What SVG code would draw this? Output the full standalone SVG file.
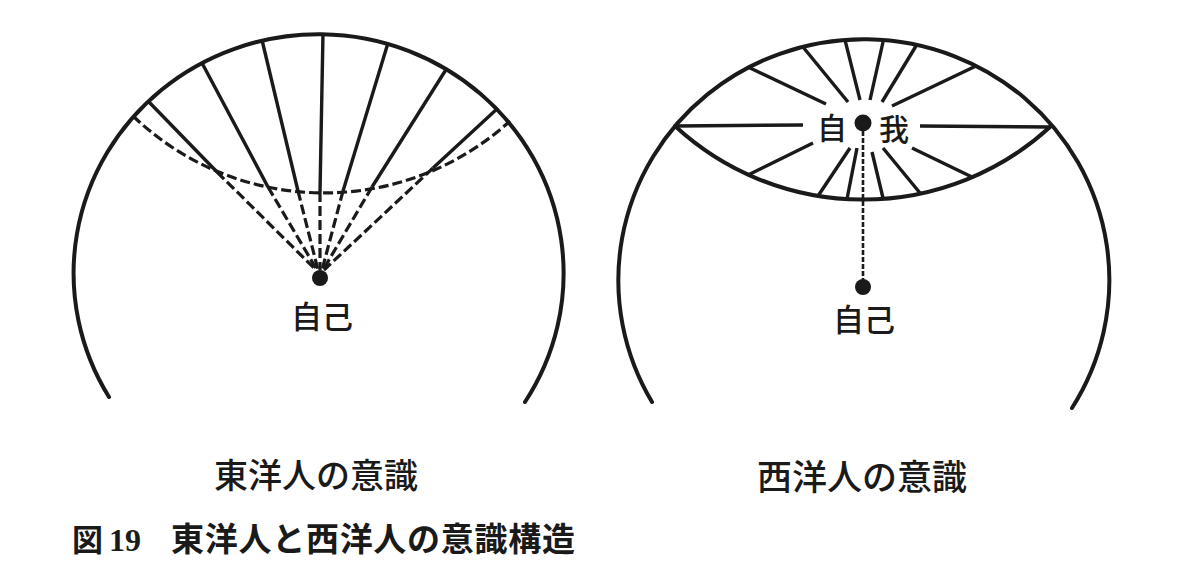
<svg xmlns="http://www.w3.org/2000/svg" width="1193" height="580" viewBox="0 0 1193 580">
<style>
.rim{fill:none;stroke:#1a1a1a;stroke-width:4;stroke-linecap:round}
.solid{fill:none;stroke:#1a1a1a;stroke-width:3.4;stroke-linecap:butt}
.dash{fill:none;stroke:#1a1a1a;stroke-width:3.2;stroke-dasharray:10 4}
.fine{fill:none;stroke:#1a1a1a;stroke-width:2.6;stroke-dasharray:5 2}
.dot{fill:#1a1a1a}
.lbl{font-family:"Noto Sans CJK JP","Noto Sans CJK SC",sans-serif;fill:#1a1a1a;font-weight:500}
.cap{font-family:"Noto Sans CJK JP","Noto Sans CJK SC",sans-serif;font-weight:700;fill:#1a1a1a}
.num{font-family:"Liberation Serif",serif;font-weight:700;fill:#1a1a1a}
</style>
<rect width="1193" height="580" fill="#ffffff"/>

<!-- East diagram -->
<g id="east-sphere">
<path class="rim" d="M109,397 A245,239 0 1 1 525,402"/>
</g>
<g id="east-self">
<circle class="dot" cx="320" cy="278" r="8"/>
<text class="lbl" x="322" y="328" font-size="31" text-anchor="middle">自己</text>
</g>
<g id="east-connectors">
<path class="dash" d="M133,116 A276,276 0 0 0 510,121"/>
<line class="solid" x1="148" y1="101" x2="217" y2="172"/>
<line class="solid" x1="202" y1="63" x2="268" y2="187"/>
<line class="solid" x1="262" y1="40" x2="298" y2="191"/>
<line class="solid" x1="323" y1="33" x2="320" y2="192"/>
<line class="solid" x1="388" y1="43" x2="343" y2="191"/>
<line class="solid" x1="447" y1="68" x2="372" y2="187"/>
<line class="solid" x1="498" y1="108" x2="433" y2="168"/>
<line class="dash" x1="217" y1="172" x2="316" y2="270"/>
<line class="dash" x1="268" y1="187" x2="317" y2="270"/>
<line class="dash" x1="298" y1="191" x2="318" y2="270"/>
<line class="dash" x1="320" y1="192" x2="320" y2="270"/>
<line class="dash" x1="343" y1="191" x2="322" y2="270"/>
<line class="dash" x1="372" y1="187" x2="323" y2="270"/>
<line class="dash" x1="433" y1="168" x2="324" y2="270"/>
</g>
<g id="east-title">
<text class="lbl" x="316" y="488" font-size="34" text-anchor="middle">東洋人の意識</text>
</g>

<!-- West diagram -->
<g id="west-sphere">
<path class="rim" d="M652,402 A245.5,241 0 1 1 1072,408"/>
</g>
<g id="west-ego">
<path class="rim" d="M675,126 A277,277 0 0 0 1050,127"/>
<circle class="dot" cx="863" cy="123" r="8.5"/>
<text class="lbl" x="832" y="139" font-size="30" text-anchor="middle">自</text>
<text class="lbl" x="894" y="140" font-size="30" text-anchor="middle">我</text>
</g>
<g id="west-self">
<circle class="dot" cx="863" cy="287" r="8"/>
<text class="lbl" x="864" y="331" font-size="31" text-anchor="middle">自己</text>
</g>
<g id="west-connectors">
<line class="solid" x1="675" y1="126" x2="803" y2="125"/>
<line class="solid" x1="920" y1="126" x2="1050" y2="127"/>
<line class="solid" x1="748" y1="67" x2="826" y2="104"/>
<line class="solid" x1="803" y1="47" x2="848" y2="102"/>
<line class="solid" x1="845" y1="40" x2="860" y2="100"/>
<line class="solid" x1="883" y1="42" x2="870" y2="100"/>
<line class="solid" x1="916" y1="46" x2="882" y2="102"/>
<line class="solid" x1="976" y1="66" x2="892" y2="106"/>
<line class="solid" x1="748" y1="175" x2="813" y2="143"/>
<line class="solid" x1="818" y1="196" x2="850" y2="148"/>
<line class="solid" x1="847" y1="199" x2="857" y2="148"/>
<line class="solid" x1="883" y1="198" x2="872" y2="152"/>
<line class="solid" x1="920" y1="193" x2="883" y2="148"/>
<line class="solid" x1="972" y1="177" x2="912" y2="148"/>
<line class="fine" x1="863" y1="131" x2="863" y2="280"/>
</g>
<g id="west-title">
<text class="lbl" x="862" y="490" font-size="35" text-anchor="middle">西洋人の意識</text>
</g>

<!-- Caption -->
<g id="caption">
<text class="cap" x="72" y="551" font-size="31">図</text>
<text class="num" x="109" y="551" font-size="32">19</text>
<text class="cap" x="171" y="551" font-size="33" textLength="404" lengthAdjust="spacing">東洋人と西洋人の意識構造</text>
</g>
</svg>
